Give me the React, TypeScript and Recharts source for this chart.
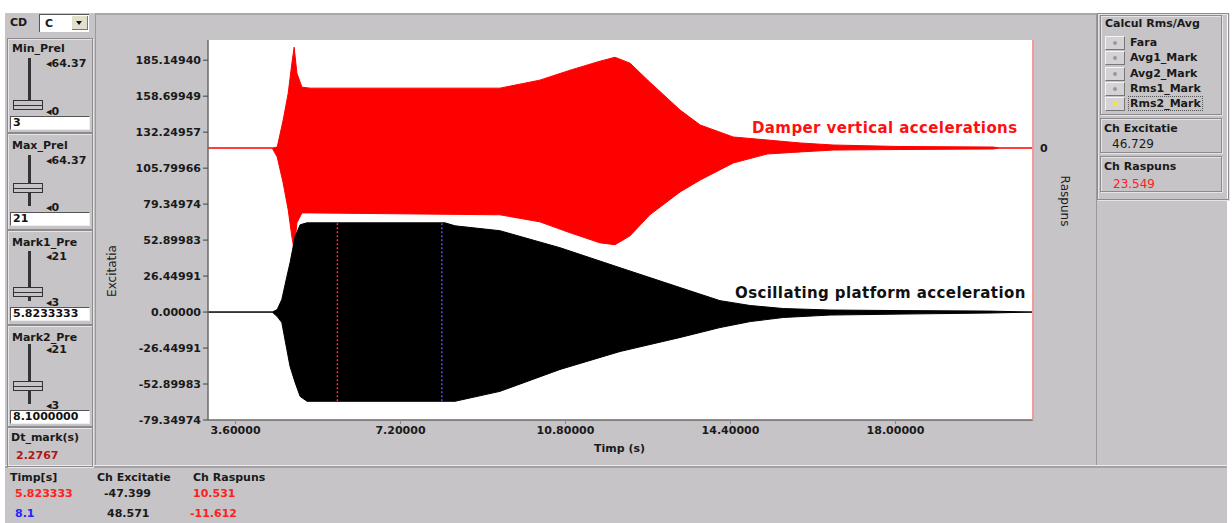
import { ComposedChart, Area, XAxis, YAxis, ReferenceLine, CartesianGrid } from "recharts"
import type { CSSProperties, ReactNode } from "react"

// Envelope of the platform (excitation) acceleration, left axis
const blackTime = [3.0, 4.4, 4.51, 4.61, 4.72, 4.79, 4.9, 5.01, 5.16, 8.17, 8.39, 9.37, 10.68, 11.99, 13.3, 14.17, 14.83, 15.55, 16.57, 18.1, 20.06, 21.0]
const blackHigh = [0, 0, 1.8, 9.2, 26.0, 36.3, 55.4, 64.2, 65.6, 65.6, 63.4, 59.8, 47.3, 32.6, 18.0, 8.4, 4.8, 2.6, 1.5, 1.1, 0.7, 0]
const blackLow = [0, 0, -3.3, -7.7, -27.5, -40.0, -51.7, -62.0, -65.6, -65.6, -65.6, -58.3, -42.2, -29.0, -18.7, -11.4, -7.0, -4.0, -2.2, -1.5, -0.7, 0]

// Envelope of the damper (response) acceleration, right axis
const redTime = [3.0, 4.4, 4.51, 4.64, 4.75, 4.83, 4.88, 4.94, 5.05, 5.23, 9.37, 10.24, 10.9, 11.55, 11.88, 12.21, 12.64, 13.3, 13.74, 14.46, 15.2, 15.92, 16.64, 18.1, 20.13, 20.28, 21.0]
const redHigh = [0, 0, 0.7, 20.5, 40.3, 62.3, 74.1, 55.0, 44.7, 44.0, 44.0, 49.9, 57.2, 63.8, 66.7, 62.3, 48.4, 27.9, 16.9, 8.1, 5.9, 3.7, 2.2, 1.1, 0.7, 0, 0]
const redLow = [0, 0, -6.6, -25.7, -45.5, -65.3, -74.8, -55.0, -47.7, -47.7, -49.1, -54.3, -62.3, -69.7, -71.1, -64.5, -49.1, -32.3, -23.5, -11.0, -4.4, -2.9, -1.5, -1.1, -0.7, 0, 0]

const timeTicks = [3.6, 7.2, 10.8, 14.4, 18.0]
const excitatieTicks = [185.1494, 158.69949, 132.24957, 105.79966, 79.34974, 52.89983, 26.44991, 0, -26.44991, -52.89983, -79.34974]
const raspunsTicks = [0]

const mark1 = 5.823333
const mark2 = 8.1
const cursorSpan = [-65.6, 65.6]

const radioOptions = ["Fara", "Avg1_Mark", "Avg2_Mark", "Rms1_Mark", "Rms2_Mark"]

const blackData = blackTime.map((t, i) => ({ t, band: [blackLow[i], blackHigh[i]] }))
const redData = redTime.map((t, i) => ({ t, band: [redLow[i], redHigh[i]] }))

const GRAY = "#c6c4c6"
const FONT = "'DejaVu Sans', Verdana, sans-serif"

const Txt = ({ x, y, children, color = "#1a1a1a", size = 11, style }: { x: number; y: number; children: ReactNode; color?: string; size?: number; style?: CSSProperties }) => (
  <div
    style={{
      position: "absolute",
      left: x,
      top: y,
      color,
      fontSize: size,
      fontWeight: "bold",
      fontFamily: FONT,
      lineHeight: 1,
      whiteSpace: "nowrap",
      ...style,
    }}
  >
    {children}
  </div>
)

const Box = ({ x, y, w, h }: { x: number; y: number; w: number; h: number }) => (
  <div
    style={{
      position: "absolute",
      left: x,
      top: y,
      width: w,
      height: h,
      border: "1px solid #8c8a8c",
      boxShadow: "inset 1px 1px 0 #e6e4e6, 1px 1px 0 #e6e4e6",
    }}
  />
)

const ValueBox = ({ x, y, w, text }: { x: number; y: number; w: number; text: string }) => (
  <div
    style={{
      position: "absolute",
      left: x,
      top: y,
      width: w,
      height: 12,
      background: "#fff",
      borderTop: "1px solid #555",
      borderLeft: "1px solid #555",
      borderRight: "1px solid #eee",
      borderBottom: "1px solid #eee",
      fontFamily: FONT,
      fontSize: 11,
      fontWeight: "bold",
      lineHeight: "12px",
      paddingLeft: 2,
      color: "#111",
    }}
  >
    {text}
  </div>
)

// vertical slide control with a box-shaped thumb
const Slider = ({ top, title, max, min, trackTop, trackBottom, thumbY, value }: { top: number; title: string; max: string; min: string; trackTop: number; trackBottom: number; thumbY: number; value: string }) => (
  <>
    <Txt x={12} y={top + 5}>{title}</Txt>
    <Txt x={46} y={trackTop}>{"◂" + max}</Txt>
    <div style={{ position: "absolute", left: 28, top: trackTop, width: 3, height: trackBottom - trackTop, background: "#333" }} />
    <div
      style={{
        position: "absolute",
        left: 13,
        top: thumbY,
        width: 30,
        height: 10,
        background: GRAY,
        border: "1px solid #333",
        boxSizing: "border-box",
      }}
    >
      <div style={{ position: "absolute", left: 0, right: 0, top: 4, height: 1, background: "#333" }} />
    </div>
    <Txt x={46} y={trackBottom - 4}>{"◂" + min}</Txt>
    <ValueBox x={10} y={trackBottom + 6} w={76} text={value} />
  </>
)

const Radio = ({ y, label, on }: { y: number; label: string; on: boolean }) => (
  <>
    <div
      style={{
        position: "absolute",
        left: 1105,
        top: y - 6,
        width: 18,
        height: 12,
        background: "#d4d2d4",
        borderTop: "1px solid #f4f4f4",
        borderLeft: "1px solid #f4f4f4",
        borderRight: "1px solid #777",
        borderBottom: "1px solid #777",
      }}
    >
      <div
        style={{
          position: "absolute",
          left: 7,
          top: 4,
          width: 4,
          height: 4,
          borderRadius: 2,
          background: on ? "#ffee00" : "#9a989a",
        }}
      />
    </div>
    <Txt x={1130} y={y - 5} style={on ? { outline: "1px dotted #555", outlineOffset: 1 } : undefined}>{label}</Txt>
  </>
)

const App = () => {
  return (
    <div style={{ position: "absolute", left: 0, top: 0, width: 1232, height: 523, background: "#fff", overflow: "hidden" }}>
      <div style={{ position: "absolute", left: 5, top: 13, width: 1222, height: 510, background: GRAY }} />

      {/* graph panel frame */}
      <div style={{ position: "absolute", left: 95, top: 13, width: 1000, height: 452, borderLeft: "1px solid #9a989a", borderRight: "1px solid #9a989a", borderTop: "2px solid #a8a6a8" }} />
      <div style={{ position: "absolute", left: 5, top: 465, width: 1222, height: 1, background: "#eceaec" }} />
      <div style={{ position: "absolute", left: 5, top: 466, width: 1222, height: 2, background: "#a4a2a4" }} />

      <ComposedChart
        width={1232}
        height={523}
        data={blackData}
        margin={{ top: 40, right: 139, bottom: 73, left: 108 }}
        style={{ position: "absolute", left: 0, top: 0, fontFamily: FONT }}
      >
        <CartesianGrid fill="#ffffff" horizontal={false} vertical={false} />
        <XAxis
          dataKey="t"
          type="number"
          domain={[3, 21]}
          ticks={timeTicks}
          allowDataOverflow
          height={30}
          tickFormatter={(v: number) => v.toFixed(5)}
          tick={{ fill: "#1a1a1a", fontSize: 11, fontWeight: "bold", fontFamily: FONT }}
          tickSize={4}
          axisLine={{ stroke: "#6a686a", strokeWidth: 1.5 }}
          tickLine={{ stroke: "#888" }}
        />
        <YAxis
          yAxisId="left"
          type="number"
          width={100}
          domain={[-79.34974, 200]}
          ticks={excitatieTicks}
          allowDataOverflow
          interval={0}
          tickFormatter={(v: number) => v.toFixed(5)}
          tick={{ fill: "#1a1a1a", fontSize: 11, fontWeight: "bold", fontFamily: FONT }}
          tickSize={5}
          axisLine={{ stroke: "#6a686a", strokeWidth: 1.5 }}
          tickLine={{ stroke: "#444" }}
        />
        <YAxis
          yAxisId="right"
          orientation="right"
          type="number"
          width={60}
          domain={[-199.95, 79.4]}
          ticks={raspunsTicks}
          allowDataOverflow
          tick={{ fill: "#1a1a1a", fontSize: 11, fontWeight: "bold", fontFamily: FONT }}
          tickSize={5}
          axisLine={{ stroke: "#f29a9a", strokeWidth: 2 }}
          tickLine={false}
        />
        <Area
          yAxisId="right"
          data={redData}
          dataKey="band"
          type="linear"
          stroke="#ff0000"
          strokeWidth={1}
          fill="#ff0000"
          fillOpacity={1}
          isAnimationActive={false}
        />
        <Area
          yAxisId="left"
          data={blackData}
          dataKey="band"
          type="linear"
          stroke="#000000"
          strokeWidth={1}
          fill="#000000"
          fillOpacity={1}
          isAnimationActive={false}
        />
        <ReferenceLine
          yAxisId="left"
          segment={[{ x: mark1, y: cursorSpan[0] }, { x: mark1, y: cursorSpan[1] }]}
          stroke="#ff3030"
          strokeWidth={1.5}
          strokeDasharray="2 2"
        />
        <ReferenceLine
          yAxisId="left"
          segment={[{ x: mark2, y: cursorSpan[0] }, { x: mark2, y: cursorSpan[1] }]}
          stroke="#4848ff"
          strokeWidth={1.5}
          strokeDasharray="2 2"
        />
      </ComposedChart>

      {/* plot annotations and axis titles */}
      <Txt x={752} y={121} color="#ff1010" size={15} style={{ letterSpacing: 0.4 }}>Damper vertical accelerations</Txt>
      <Txt x={735} y={286} color="#111" size={15} style={{ letterSpacing: 0.4 }}>Oscillating platform acceleration</Txt>
      <Txt x={594} y={443}>Timp (s)</Txt>
      <Txt x={86} y={265} style={{ transform: "rotate(-90deg)", fontWeight: "normal", fontSize: 12 }}>Excitatia</Txt>
      <Txt x={1040} y={195} style={{ transform: "rotate(90deg)", fontWeight: "normal", fontSize: 12 }}>Raspuns</Txt>

      {/* left control column */}
      <Txt x={10} y={17}>CD</Txt>
      <div style={{ position: "absolute", left: 39, top: 14, width: 50, height: 18, background: "#fff", borderTop: "1px solid #555", borderLeft: "1px solid #555", boxSizing: "border-box" }}>
        <Txt x={5} y={3}>C</Txt>
        <div style={{ position: "absolute", right: 1, top: 1, width: 16, height: 14, background: "#e2e0cc", borderRight: "1px solid #777", borderBottom: "1px solid #777", boxSizing: "border-box" }}>
          <div style={{ position: "absolute", left: 4, top: 5, width: 0, height: 0, borderLeft: "3px solid transparent", borderRight: "3px solid transparent", borderTop: "4px solid #111" }} />
        </div>
      </div>

      <Box x={7} y={38} w={84} h={93} />
      <Slider top={38} title="Min_Prel" max="64.37" min="0" trackTop={58} trackBottom={110} thumbY={100} value="3" />
      <Box x={7} y={133} w={84} h={95} />
      <Slider top={135} title="Max_Prel" max="64.37" min="0" trackTop={155} trackBottom={206} thumbY={183} value="21" />
      <Box x={7} y={230} w={84} h={93} />
      <Slider top={232} title="Mark1_Pre" max="21" min="3" trackTop={251} trackBottom={301} thumbY={287} value="5.8233333" />
      <Box x={7} y={325} w={84} h={100} />
      <Slider top={327} title="Mark2_Pre" max="21" min="3" trackTop={344} trackBottom={404} thumbY={381} value="8.1000000" />
      <Box x={7} y={427} w={84} h={38} />
      <Txt x={11} y={432}>Dt_mark(s)</Txt>
      <Txt x={16} y={450} color="#b01818">2.2767</Txt>

      {/* right column */}
      <Box x={1097} y={13} w={130} h={185} />
      <Box x={1100} y={15} w={120} h={98} />
      <Txt x={1105} y={18}>Calcul Rms/Avg</Txt>
      {radioOptions.map((label, i) => (
        <Radio key={label} y={42 + i * 15.3} label={label} on={i === radioOptions.length - 1} />
      ))}
      <Box x={1100} y={118} w={120} h={33} />
      <Txt x={1104} y={123}>Ch Excitatie</Txt>
      <Txt x={1112} y={138} size={12} style={{ fontWeight: "normal" }}>46.729</Txt>
      <Box x={1100} y={156} w={120} h={34} />
      <Txt x={1104} y={161}>Ch Raspuns</Txt>
      <Txt x={1113} y={178} color="#ff2020" size={12} style={{ fontWeight: "normal" }}>23.549</Txt>

      {/* cursor readout table */}
      <Txt x={10} y={472}>Timp[s]</Txt>
      <Txt x={97} y={472}>Ch Excitatie</Txt>
      <Txt x={193} y={472}>Ch Raspuns</Txt>
      <Txt x={15} y={488} color="#ff2020">5.823333</Txt>
      <Txt x={104} y={488}>-47.399</Txt>
      <Txt x={193} y={488} color="#ff2020">10.531</Txt>
      <Txt x={15} y={508} color="#2424ff">8.1</Txt>
      <Txt x={107} y={508}>48.571</Txt>
      <Txt x={190} y={508} color="#ff2020">-11.612</Txt>
    </div>
  )
}

export default App
